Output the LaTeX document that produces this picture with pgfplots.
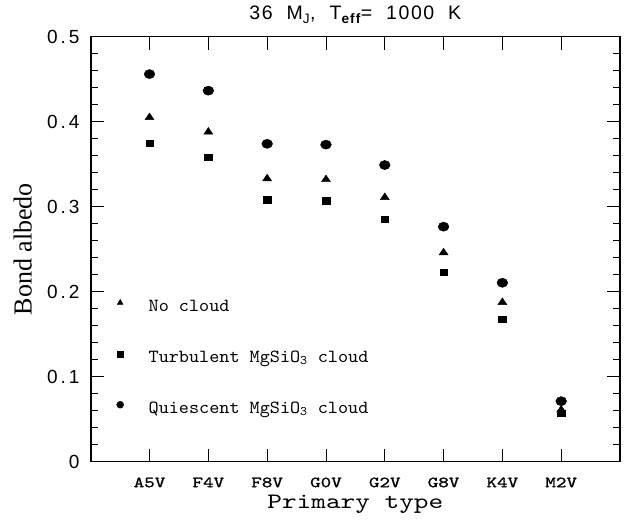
\documentclass[border=0pt]{standalone}
\usepackage{fontspec}
\setmainfont{Liberation Serif}
\newfontfamily\tickf{Liberation Sans}[LetterSpace=16]
\newfontfamily\titlef{Liberation Sans}[LetterSpace=8]
\newfontfamily\legf{lmmono10-regular.otf}[FakeStretch=1.04]
\newfontfamily\xlabf{lmmono10-regular.otf}[FakeStretch=1.27]
\newfontfamily\xtickf{lmmono10-regular.otf}[FakeStretch=1.3, FakeBold=1.2]
\usepackage{pgfplots}
\pgfplotsset{compat=1.18}
\usetikzlibrary{calc}

% index  noCloud  turbulent  quiescent
\pgfplotstableread{
x  nc      tu      qu
1  0.405   0.375   0.456
2  0.388   0.358   0.4365
3  0.333   0.308   0.374
4  0.332   0.307   0.373
5  0.311   0.285   0.349
6  0.246   0.223   0.2765
7  0.1875  0.1675  0.2105
8  0.061   0.057   0.0712
}\albedo

\begin{document}
\begin{tikzpicture}
\begin{axis}[
  scale only axis,
  width=529.3pt, height=425pt,
  xmin=0, xmax=9, ymin=0, ymax=0.5,
  xtick={1,2,3,4,5,6,7,8},
  xticklabels={A5V,F4V,F8V,G0V,G2V,G8V,K4V,M2V},
  ytick={0,0.1,0.2,0.3,0.4,0.5},
  yticklabels={0,0.1,0.2,0.3,0.4,0.5},
  minor y tick num=4,
  tick align=inside,
  xtick pos=both, ytick pos=both,
  axis line style={line width=1.6pt},
  tick style={line width=0.8pt, black},
  major tick length=13pt, minor tick length=7pt,
  xticklabel style={font=\xtickf\fontsize{15.5}{15.5}\selectfont, anchor=base, inner sep=0pt, yshift=-25.5pt},
  yticklabel style={font=\tickf\fontsize{19}{19}\selectfont, anchor=east, inner sep=0pt, xshift=-11pt},
  title={\titlef\fontsize{19.5}{19.5}\selectfont 36~~M\textsubscript{J},~~T\textsubscript{\bfseries eff}=~~1000~~K},
  title style={anchor=base, at={(axis description cs:0.5,1)}, yshift=10.7pt},
  xlabel={\xlabf\fontsize{22}{22}\selectfont Primary type},
  xlabel style={anchor=base, inner sep=0pt, at={(axis description cs:0.5,0)}, yshift=-46.5pt},
  ylabel={Bond albedo},
  ylabel style={font=\fontsize{26}{26}\selectfont, anchor=center, at={(axis description cs:-0.1285,0.5)}},
  legend image code/.code={\draw[#1] plot coordinates {(0pt,4.5pt)};},
  legend cell align=left,
  legend style={draw=none, fill=none, inner sep=0pt, outer sep=0pt,
    at={(axis cs:0.442,0.1935)}, anchor=north west,
    font=\legf\fontsize{18.5}{18.5}\selectfont,
    nodes={text height=12pt, text depth=4pt, inner sep=2pt},
    row sep=31pt, column sep=23pt},
]
\addlegendimage{only marks, mark=triangle*, mark size=3.3pt, black}
\addlegendentry{No cloud}
\addlegendimage{only marks, mark=square*, mark size=3pt, black}
\addlegendentry{Turbulent MgSiO\textsubscript{3} cloud}
\addlegendimage{only marks, mark=*, mark size=3.5pt, black}
\addlegendentry{Quiescent MgSiO\textsubscript{3} cloud}

\addplot[forget plot, only marks, mark=triangle*, mark size=5.2pt, black, mark options={yscale=0.86}] table[x=x, y=nc] {\albedo};
\addplot[forget plot, only marks, mark=square*, mark size=3.8pt, black, mark options={yscale=0.85}] table[x=x, y=tu] {\albedo};
\addplot[forget plot, only marks, mark=*, mark size=5.4pt, black, mark options={yscale=0.85}] table[x=x, y=qu] {\albedo};
\end{axis}
\pgfresetboundingbox
\path[use as bounding box] ($(current axis.south west)+(-90.7pt,-58.3pt)$) rectangle ($(current axis.north east)+(8pt,36.7pt)$);
\end{tikzpicture}
\end{document}
